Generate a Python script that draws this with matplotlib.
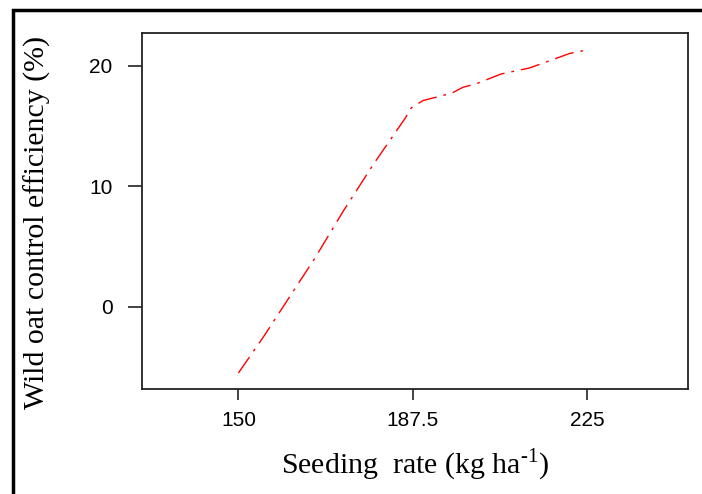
import matplotlib
matplotlib.use("Agg")
import matplotlib.pyplot as plt
from matplotlib.patches import Rectangle

# values
seeding_rate = [150, 155.3, 166.4, 172.5, 179, 185.8, 187.2, 189.7, 195.8,
                198.3, 201.2, 206.5, 210.1, 212.6, 218, 221.2, 225]
control_eff = [-5.5, -2.55, 4.0, 7.9, 11.8, 15.6, 16.5, 17.1, 17.7,
               18.2, 18.5, 19.3, 19.6, 19.8, 20.55, 21.0, 21.3]
x_ticks = [150, 187.5, 225]
x_ticklabels = ["150", "187.5", "225"]
y_ticks = [0, 10, 20]

plt.rcParams['mathtext.fontset'] = 'custom'
plt.rcParams['mathtext.rm'] = 'Liberation Serif'

fig = plt.figure(figsize=(7.02, 4.94), dpi=100)

# outer frame (cut off at right and bottom)
frame = Rectangle((13 / 702, -0.2), 1.2, 1.2 - 10 / 494,
                  transform=fig.transFigure, fill=False, edgecolor='black',
                  linewidth=2.5, clip_on=False)
fig.patches.append(frame)

ax = fig.add_axes([141.7 / 702, 1 - 389 / 494, 546 / 702, 356 / 494])
ax.plot(seeding_rate, control_eff, color='red', linewidth=1.0,
        dashes=(14, 5, 2, 5))

ax.set_xlim(129.2, 246.6)
ax.set_ylim(-6.83, 22.7)
ax.set_xticks(x_ticks)
ax.set_xticklabels(x_ticklabels)
ax.set_yticks(y_ticks)

for s in ax.spines.values():
    s.set_linewidth(1.3)
    s.set_color('#222222')
ax.tick_params(axis='x', length=8, width=1.2, pad=8, labelsize=15, color='#222222')
ax.tick_params(axis='y', length=10, width=1.2, pad=11, labelsize=15, color='#222222')
for lab in ax.get_xticklabels() + ax.get_yticklabels():
    lab.set_fontfamily('Liberation Sans')

ax.set_xlabel(r'Seeding  rate (kg ha$^{\text{-1}}$)', family='Liberation Serif',
              fontsize=21.5)
ax.set_ylabel('Wild oat control efficiency (%)', family='Liberation Serif',
              fontsize=21.5)
ax.xaxis.set_label_coords(0.5005, -0.163)
ax.yaxis.set_label_coords(-0.166, 0.469)

fig.savefig('out.png', dpi=100)
